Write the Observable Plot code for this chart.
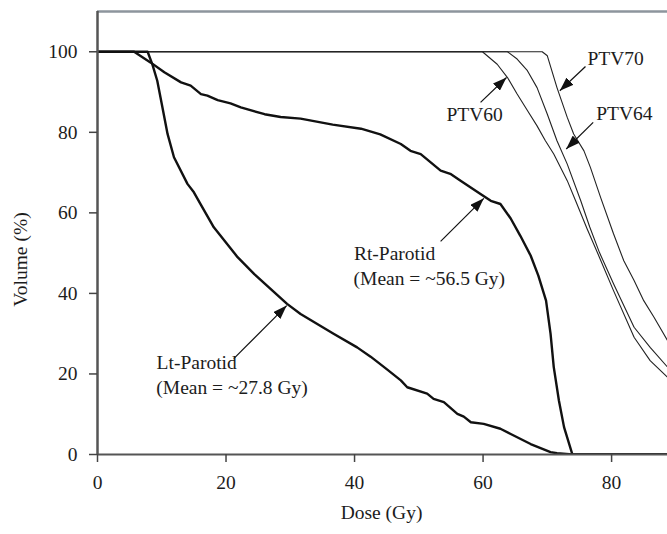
<!DOCTYPE html>
<html>
<head>
<meta charset="utf-8">
<script src="https://cdn.jsdelivr.net/npm/d3@7"></script>
<script src="https://cdn.jsdelivr.net/npm/@observablehq/plot@0.6"></script>
<style>
  html, body { margin: 0; padding: 0; background: #fff; }
  #chart svg { display: block; }
</style>
</head>
<body>
<div id="chart"></div>
<script>
// ---- Data (Dose in Gy, Volume in %) ----
const ltParotidDose   = [0, 7.8, 8.55, 9.3, 10.1, 10.9, 11.9, 14.0, 15.0, 16.1, 18.1, 21.8, 24.4, 29.5, 31.6, 36.8, 40.4, 42.5, 45.0, 47.2, 48.2, 51.3, 52.3, 53.9, 56.0, 57.0, 58.1, 60.1, 62.7, 64.3, 67.4, 70.5, 71.5, 73.9, 90];
const ltParotidVolume = [100, 100, 96.8, 92.8, 86.2, 79.6, 73.8, 67.2, 65.1, 62.0, 56.4, 49.0, 44.8, 37.4, 34.9, 29.9, 26.6, 24.3, 21.2, 18.4, 16.7, 15.1, 13.8, 13.0, 10.1, 9.4, 8.0, 7.6, 6.4, 5.1, 2.6, 0.6, 0.3, 0, 0];

const rtParotidDose   = [0, 5.7, 8.3, 10.4, 13.0, 14.5, 16.1, 17.1, 18.7, 20.7, 22.3, 26.0, 28.5, 31.6, 36.6, 41.0, 44.0, 47.2, 48.7, 50.3, 53.4, 54.9, 56.5, 59.6, 61.2, 62.7, 64.3, 65.8, 67.4, 68.6, 69.8, 70.5, 71.0, 71.8, 72.6, 73.9, 90];
const rtParotidVolume = [100, 100, 97.3, 94.9, 92.4, 91.6, 89.5, 89.1, 88.0, 87.2, 86.2, 84.5, 83.8, 83.4, 81.9, 80.9, 79.5, 77.1, 75.4, 74.6, 70.5, 69.7, 68.0, 64.7, 63.0, 62.2, 58.6, 54.3, 49.4, 44.4, 38.2, 30.0, 21.7, 13.4, 6.8, 0, 0];

const ptv60Dose   = [0, 59.9, 62.2, 63.8, 65.3, 66.9, 68.4, 69.7, 71.0, 73.1, 74.4, 76.2, 78.1, 80.3, 83.5, 86.0, 88.7];
const ptv60Volume = [100, 100, 96.9, 93.6, 89.5, 85.4, 81.6, 77.9, 74.6, 68.0, 63.0, 56.0, 49.0, 40.7, 29.1, 23.3, 19.2];

const ptv64Dose   = [0, 63.8, 65.3, 66.9, 68.4, 70.0, 71.5, 73.1, 75.2, 76.6, 78.1, 80.3, 83.5, 86.0, 88.7];
const ptv64Volume = [100, 100, 98.2, 95.3, 91.1, 84.5, 77.9, 72.1, 63.0, 56.5, 50.2, 42.4, 31.6, 26.6, 21.7];

const ptv70Dose   = [0, 69.2, 70.0, 71.5, 73.1, 74.1, 75.7, 76.7, 78.3, 80.3, 81.9, 83.5, 85.0, 86.6, 88.7];
const ptv70Volume = [100, 100, 99.0, 91.1, 83.7, 79.6, 75.4, 71.3, 63.8, 54.8, 48.1, 43.2, 38.2, 34.1, 28.3];

const seriesNames = ["Lt-Parotid", "Rt-Parotid", "PTV60", "PTV64", "PTV70"];

const xTicks = [0, 20, 40, 60, 80];
const yTicks = [0, 20, 40, 60, 80, 100];

// annotation texts (anchored at left / baseline, data coordinates)
const labelText   = ["PTV70", "PTV60", "PTV64", "Rt-Parotid", "(Mean = ~56.5 Gy)", "Lt-Parotid", "(Mean = ~27.8 Gy)"];
const labelDose   = [76.25, 54.3, 77.6, 39.9, 39.85, 9.2, 9.15];
const labelVolume = [96.8, 82.9, 83.1, 48.4, 42.2, 21.3, 15.1];

// annotation arrows (from text toward curve)
const arrowFromDose = [75.94, 59.61, 77.14, 53.39, 21.2];
const arrowFromVol  = [96.35, 87.42, 82.46, 52.93, 23.8];
const arrowToDose   = [71.94, 63.65, 72.94, 60.12, 29.44];
const arrowToVol    = [90.32, 93.62, 75.86, 63.6, 36.97];

// ---- Build tables ----
const seriesDose = [ltParotidDose, rtParotidDose, ptv60Dose, ptv64Dose, ptv70Dose];
const seriesVol  = [ltParotidVolume, rtParotidVolume, ptv60Volume, ptv64Volume, ptv70Volume];
const rows = seriesNames.flatMap((name, i) =>
  seriesDose[i].map((d, j) => ({series: name, dose: d, volume: seriesVol[i][j]})));
const parotidRows = rows.filter(r => r.series.includes("Parotid"));
const ptvRows = rows.filter(r => r.series.startsWith("PTV"));
const labels = labelText.map((t, i) => ({text: t, x: labelDose[i], y: labelVolume[i]}));
const arrows = arrowFromDose.map((d, i) => ({x1: d, y1: arrowFromVol[i], x2: arrowToDose[i], y2: arrowToVol[i]}));

const FONT = "'Liberation Serif', 'Times New Roman', serif";
const ink = "#1c1c1c";

const plot = Plot.plot({
  width: 667,
  height: 534,
  marginLeft: 97,
  marginRight: 0,
  marginTop: 11,
  marginBottom: 80,
  style: {fontFamily: FONT, fontSize: "19.5px", color: ink, background: "#fff"},
  x: {domain: [0, 88.7], axis: null},
  y: {domain: [0, 110], axis: null},
  marks: [
    Plot.ruleY([110], {stroke: "#8d959d", strokeWidth: 2.5}),
    Plot.line(ptvRows, {x: "dose", y: "volume", z: "series", stroke: "#222", strokeWidth: 1.1, clip: true}),
    Plot.line(parotidRows, {x: "dose", y: "volume", z: "series", stroke: "#111", strokeWidth: 2.4, clip: true}),
    Plot.ruleX([0], {stroke: "#555", strokeWidth: 2.5}),
    Plot.ruleY([0], {stroke: "#555", strokeWidth: 2}),
    Plot.axisY({ticks: yTicks, tickSize: 8, tickPadding: 12, stroke: "#444", strokeWidth: 1.5, label: null, tickFormat: d => String(d), fontSize: 19.5, fill: ink}),
    Plot.axisX({ticks: xTicks, tickSize: 8, tickPadding: 13, stroke: "#444", strokeWidth: 1.5, label: null, tickFormat: d => String(d), fontSize: 19.5, fill: ink}),
    Plot.link(arrows, {x1: "x1", y1: "y1", x2: "x2", y2: "y2", stroke: "#111", strokeWidth: 1.2}),
    Plot.text(labels, {x: "x", y: "y", text: "text", textAnchor: "start", lineAnchor: "bottom", fill: ink, fontSize: 19.5}),
    // axis titles
    Plot.text(["Dose (Gy)"], {x: 44.2, y: -16.1, text: d => d, textAnchor: "middle", lineAnchor: "bottom", fill: ink, fontSize: 19.5}),
    Plot.text(["Volume (%)"], {x: 0, y: 48.4, dx: -71, text: d => d, rotate: -90, textAnchor: "middle", lineAnchor: "bottom", fill: ink, fontSize: 19.5})
  ]
});

// filled arrowheads on the annotation links
const svg = d3.select(plot);
const defs = svg.insert("defs", ":first-child");
defs.append("marker")
  .attr("id", "arrowhead-filled")
  .attr("viewBox", "0 0 14 10")
  .attr("refX", 14).attr("refY", 5)
  .attr("markerWidth", 14).attr("markerHeight", 10)
  .attr("markerUnits", "userSpaceOnUse")
  .attr("orient", "auto")
  .append("path").attr("d", "M0,0L14,5L0,10Z").attr("fill", "#111");
svg.selectAll('g[aria-label="link"] path').attr("marker-end", "url(#arrowhead-filled)");

document.getElementById("chart").appendChild(plot);
</script>
</body>
</html>
